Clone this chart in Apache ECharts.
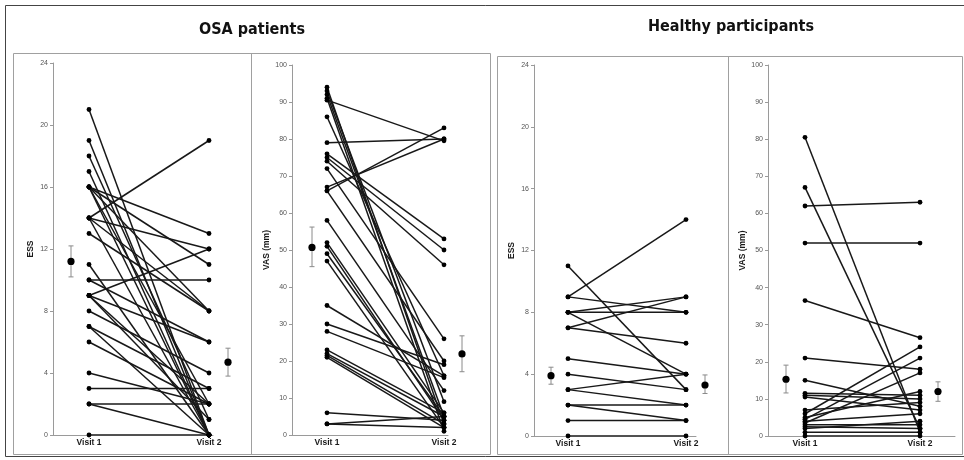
<!DOCTYPE html>
<html><head><meta charset="utf-8">
<script src="https://cdn.jsdelivr.net/npm/echarts@6/dist/echarts.min.js"></script>
<style>html,body{margin:0;padding:0;background:#fff}#c{width:964px;height:460px}</style>
</head><body><div id="c"></div>
<script>
// ---------- DATA ----------
const VISITS = ['Visit 1', 'Visit 2'];
const ESS_TICKS = [0, 4, 8, 12, 16, 20, 24];
const VAS_TICKS = [0, 10, 20, 30, 40, 50, 60, 70, 80, 90, 100];

// OSA patients – ESS (each index = one subject)
const OSA_ESS_V1 = [21, 19, 18, 17, 16, 16, 16, 16, 16, 14, 14, 14, 14, 13, 11, 10, 10, 9, 9, 9, 9, 8, 7, 7, 6, 4, 3, 2, 2, 0];
const OSA_ESS_V2 = [0, 0, 1, 0, 13, 8, 11, 2, 0, 19, 12, 8, 0, 8, 0, 10, 6, 12, 6, 2, 1, 4, 3, 0, 2, 2, 3, 2, 0, 0];
const OSA_ESS_MEAN = [11.2, 4.7];
const OSA_ESS_LOW = [10.2, 3.8];
const OSA_ESS_HIGH = [12.2, 5.6];

// OSA patients – VAS (mm)
const OSA_VAS_V1 = [94, 93, 92, 91, 90.5, 86, 79, 76, 75, 74, 72, 67, 66, 66, 58, 52, 51, 49, 47, 35, 30, 28, 23, 22, 21.5, 21, 6, 3, 3];
const OSA_VAS_V2 = [3, 9, 5, 1, 79.5, 16, 80, 53, 50, 46, 26, 80, 83, 20, 12, 6, 4, 5, 2, 16, 19, 15.5, 6, 5, 3, 2, 4, 5, 2];
const OSA_VAS_MEAN = [50.7, 21.9];
const OSA_VAS_LOW = [45.5, 17.1];
const OSA_VAS_HIGH = [56.2, 26.8];

// Healthy participants – ESS
const HEA_ESS_V1 = [9, 11, 9, 8, 8, 8, 7, 7, 5, 4, 3, 3, 2, 2, 1, 0];
const HEA_ESS_V2 = [14, 3, 8, 9, 8, 4, 9, 6, 4, 3, 4, 2, 2, 1, 1, 0];
const HEA_ESS_MEAN = [3.9, 3.3];
const HEA_ESS_LOW = [3.35, 2.75];
const HEA_ESS_HIGH = [4.45, 3.95];

// Healthy participants – VAS (mm)
const HEA_VAS_V1 = [80.5, 67, 62, 52, 36.5, 21, 15, 11.5, 11, 10.5, 7, 6, 5, 4.5, 3.5, 4, 3, 2.5, 2, 1, 0];
const HEA_VAS_V2 = [1, 2, 63, 52, 26.5, 18, 8, 11, 10, 7, 9, 24, 12, 21, 17, 6, 3, 2, 4, 1, 0];
const HEA_VAS_MEAN = [15.3, 12.0];
const HEA_VAS_LOW = [11.6, 9.35];
const HEA_VAS_HIGH = [19.1, 14.6];

// ---------- LAYOUT ----------
const PANELS = [
  {v1: OSA_ESS_V1, v2: OSA_ESS_V2, mean: OSA_ESS_MEAN, lo: OSA_ESS_LOW, hi: OSA_ESS_HIGH, ticks: ESS_TICKS, name: 'ESS',
   left: 53, top: 63, height: 372, width: 160, x1: 36, x2: 156, m1: 18, m2: 175},
  {v1: OSA_VAS_V1, v2: OSA_VAS_V2, mean: OSA_VAS_MEAN, lo: OSA_VAS_LOW, hi: OSA_VAS_HIGH, ticks: VAS_TICKS, name: 'VAS (mm)',
   left: 292, top: 65, height: 370, width: 156, x1: 35, x2: 152, m1: 20, m2: 170},
  {v1: HEA_ESS_V1, v2: HEA_ESS_V2, mean: HEA_ESS_MEAN, lo: HEA_ESS_LOW, hi: HEA_ESS_HIGH, ticks: ESS_TICKS, name: 'ESS',
   left: 534, top: 65, height: 371, width: 162, x1: 34, x2: 152, m1: 17, m2: 171},
  {v1: HEA_VAS_V1, v2: HEA_VAS_V2, mean: HEA_VAS_MEAN, lo: HEA_VAS_LOW, hi: HEA_VAS_HIGH, ticks: VAS_TICKS, name: 'VAS (mm)',
   left: 768, top: 65, height: 371, width: 187, x1: 37, x2: 152, m1: 18, m2: 170}
];

const FONT = 'Arial, Liberation Sans, sans-serif';
const grids = [], xAxes = [], yAxes = [], series = [];
PANELS.forEach((p, i) => {
  grids.push({left: p.left, top: p.top, width: p.width, height: p.height, containLabel: false});
  xAxes.push({
    type: 'value', gridIndex: i, min: 0, max: p.width,
    axisLine: {show: true, onZero: false, lineStyle: {color: '#9a9a9a', width: 1}},
    axisTick: {show: false}, splitLine: {show: false}, axisLabel: {show: false}
  });
  const mx = p.ticks[p.ticks.length - 1];
  yAxes.push({
    type: 'value', gridIndex: i, min: 0, max: mx, interval: p.ticks[1] - p.ticks[0],
    axisLine: {show: true, lineStyle: {color: '#9a9a9a', width: 1}},
    axisTick: {show: true, length: 3, lineStyle: {color: '#9a9a9a'}},
    splitLine: {show: false},
    axisLabel: {fontFamily: FONT, fontSize: 7, color: '#555', margin: 5},
    name: p.name, nameLocation: 'middle', nameGap: 18, nameRotate: 90,
    nameTextStyle: {fontFamily: FONT, fontWeight: 'bold', fontSize: 8.5, color: '#1a1a1a'}
  });
  p.v1.forEach((a, k) => {
    series.push({
      type: 'line', xAxisIndex: i, yAxisIndex: i, silent: true, animation: false,
      data: [[p.x1, a], [p.x2, p.v2[k]]],
      symbol: 'circle', symbolSize: 4.8, showSymbol: true,
      lineStyle: {color: '#181818', width: 1.5},
      itemStyle: {color: '#000'}, z: 2
    });
  });
  series.push({
    type: 'custom', xAxisIndex: i, yAxisIndex: i, silent: true, animation: false, clip: false,
    data: [[p.m1, p.mean[0], p.lo[0], p.hi[0]], [p.m2, p.mean[1], p.lo[1], p.hi[1]]],
    renderItem: (params, api) => {
      const x = api.value(0);
      const pm = api.coord([x, api.value(1)]);
      const pl = api.coord([x, api.value(2)]);
      const ph = api.coord([x, api.value(3)]);
      const st = {stroke: '#8a8a8a', lineWidth: 1};
      return {type: 'group', children: [
        {type: 'line', shape: {x1: pl[0], y1: pl[1], x2: ph[0], y2: ph[1]}, style: st},
        {type: 'line', shape: {x1: pl[0] - 2.5, y1: pl[1], x2: pl[0] + 2.5, y2: pl[1]}, style: st},
        {type: 'line', shape: {x1: ph[0] - 2.5, y1: ph[1], x2: ph[0] + 2.5, y2: ph[1]}, style: st},
        {type: 'circle', shape: {cx: pm[0], cy: pm[1], r: 3.6}, style: {fill: '#000'}}
      ]};
    }, z: 3
  });
});

const TITLE_FONT = 'Liberation Sans Narrow, DejaVu Sans Condensed, Arial Narrow, sans-serif';
const frame = [
  {type: 'rect', shape: {x: 5.5, y: 5.5, width: 970, height: 451}, style: {fill: null, stroke: '#444', lineWidth: 1}, z: -1},
  {type: 'rect', shape: {x: 13.5, y: 53.5, width: 477, height: 401}, style: {fill: null, stroke: '#a0a0a0', lineWidth: 1}, z: -1},
  {type: 'line', shape: {x1: 251.5, y1: 53.5, x2: 251.5, y2: 454.5}, style: {stroke: '#a0a0a0', lineWidth: 1}, z: -1},
  {type: 'rect', shape: {x: 497.5, y: 56.5, width: 465, height: 398}, style: {fill: null, stroke: '#a0a0a0', lineWidth: 1}, z: -1},
  {type: 'line', shape: {x1: 728.5, y1: 56.5, x2: 728.5, y2: 454.5}, style: {stroke: '#a0a0a0', lineWidth: 1}, z: -1}
];

const chart = echarts.init(document.getElementById('c'), null, {renderer: 'canvas'});
chart.setOption({
  animation: false,
  backgroundColor: '#fff',
  title: [
    {text: 'OSA patients', left: 247, top: 17, textAlign: 'center',
     textStyle: {fontFamily: TITLE_FONT, fontWeight: 'bold', fontSize: 16, color: '#111'}},
    {text: 'Healthy participants', left: 726, top: 14, textAlign: 'center',
     textStyle: {fontFamily: TITLE_FONT, fontWeight: 'bold', fontSize: 16, color: '#111'}}
  ],
  graphic: frame,
  grid: grids, xAxis: xAxes, yAxis: yAxes, series: series
});

// Visit labels placed under each visit position using the axis scale
const labels = [];
PANELS.forEach((p, i) => {
  [p.x1, p.x2].forEach((xv, j) => {
    const pt = chart.convertToPixel({xAxisIndex: i, yAxisIndex: i}, [xv, 0]);
    labels.push({type: 'text', x: pt[0], y: pt[1] + 3,
      style: {text: VISITS[j], fill: '#1a1a1a', font: 'bold 8.5px ' + FONT, textAlign: 'center', textVerticalAlign: 'top'}});
  });
});
chart.setOption({graphic: frame.concat(labels)});
</script></body></html>
